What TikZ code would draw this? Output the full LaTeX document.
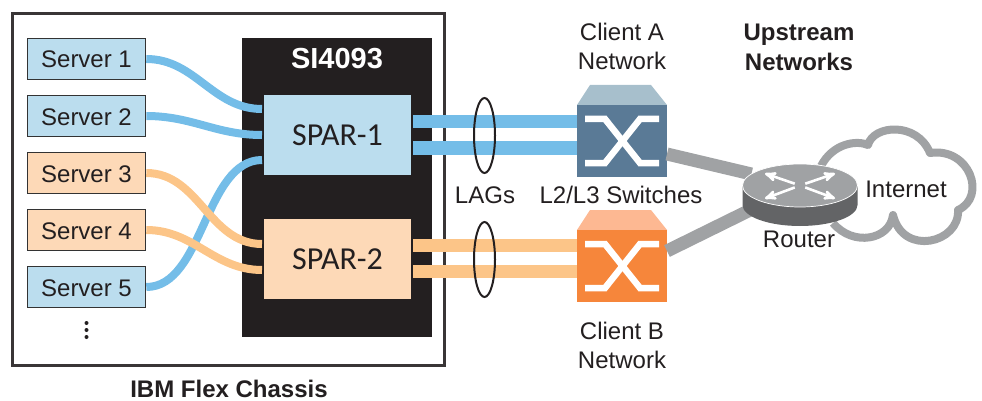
\documentclass[tikz,border=0pt]{standalone}
\usepackage{fontspec}
\setmainfont{Liberation Sans}
\newfontfamily\sparfont{Carlito}
\usetikzlibrary{arrows,shapes,positioning}

\definecolor{lightblue}{HTML}{BBDDEE}
\definecolor{lightorange}{HTML}{FDD9B7}
\definecolor{cableblue}{HTML}{74BDE8}
\definecolor{cableorange}{HTML}{FCC588}
\definecolor{chassisblack}{HTML}{231F20}
\definecolor{linkgray}{HTML}{A0A2A4}

\tikzset{
  lbl/.style={font=\fontsize{24}{29}\selectfont,text=chassisblack,align=center,inner sep=0pt},
  boldlbl/.style={font=\fontsize{24}{30}\selectfont\bfseries,text=chassisblack,align=center,inner sep=0pt},
  server/.style={draw=black!80,line width=1.6pt,minimum width=118pt,minimum height=41pt,inner sep=0pt,
                 font=\fontsize{24}{29}\selectfont,text=chassisblack,text height=18pt,text depth=0pt},
  spar/.style={minimum width=147pt,minimum height=80pt,inner sep=0pt,
               font=\sparfont\fontsize{32}{36}\selectfont,text=chassisblack},
  switch/.style={minimum width=90pt,minimum height=72pt,inner sep=0pt,outer sep=0pt},
  cable/.style={line width=8pt},
  lag/.style={line width=13pt},
  uplink/.style={draw=linkgray,line width=13pt},
  cross/.style={draw=white,line width=6.5pt,miter limit=2},
  lagring/.style={draw=chassisblack,line width=2pt,ellipse,minimum width=21pt,minimum height=75pt,inner sep=0pt},
  routerarrow/.style={draw=white,line width=2.6pt,-stealth'}
}

\begin{document}
\begin{tikzpicture}[x=1pt,y=-1pt,node distance=57pt]
  \useasboundingbox (0,0) rectangle (982,401);

  % chassis
  \node[draw=chassisblack!90,line width=2.5pt,minimum width=432pt,minimum height=352pt,inner sep=0pt] (chassis) at (228.5,189.5) {};
  \node[fill=chassisblack,minimum width=190pt,minimum height=299pt,inner sep=0pt] (si) at (337,187.5) {};
  \node[font=\fontsize{29}{30}\selectfont\bfseries,text=white,inner sep=0pt] (siname) at (337,59) {SI4093};

  \node[spar,fill=lightblue]   (spar1) at (337.5,135) {SPAR-1};
  \node[spar,fill=lightorange] (spar2) [below=44pt of spar1] {SPAR-2};

  \node[server,fill=lightblue]   (s1) at (86.5,59) {Server 1};
  \node[server,fill=lightblue]   (s2) [below of=s1] {Server 2};
  \node[server,fill=lightorange] (s3) [below of=s2] {Server 3};
  \node[server,fill=lightorange] (s4) [below of=s3] {Server 4};
  \node[server,fill=lightblue]   (s5) [below of=s4] {Server 5};
  \foreach \y in {323,330,337}
    \fill[chassisblack] (86.5,\y) circle (2pt);

  \node[boldlbl] (chassisname) at (229,389) {IBM Flex Chassis};

  % switches
  \node[switch] (swa) at (622,141) {};
  \node[switch] (swb) at (622,266) {};
  \fill[fill={rgb,255:red,167;green,191;blue,204}] (swa.north west) -- +(13,-20) -- +(74,-20) -- (swa.north east) -- cycle;
  \fill[fill={rgb,255:red,90;green,122;blue,150}] (swa.north west) rectangle (swa.south east);
  \fill[fill={rgb,255:red,253;green,184;blue,146}] (swb.north west) -- +(13,-20) -- +(74,-20) -- (swb.north east) -- cycle;
  \fill[fill={rgb,255:red,246;green,134;blue,59}] (swb.north west) rectangle (swb.south east);
  \foreach \sw in {swa,swb} {
    \draw[cross] ([shift={(-37,-22)}]\sw.center) -- ([shift={(-17,-22)}]\sw.center) -- ([shift={(18,22)}]\sw.center) -- ([shift={(37,22)}]\sw.center);
    \draw[cross] ([shift={(37,-22)}]\sw.center) -- ([shift={(18,-22)}]\sw.center) -- ([shift={(-17,22)}]\sw.center) -- ([shift={(-37,22)}]\sw.center);
  }

  % cloud
  \draw[draw=linkgray,fill=white,line width=8pt,line join=round]
    (821,166) .. controls (833,143) and (857,140) .. (868,145)
    .. controls (873,125) and (917,121) .. (930,153)
    .. controls (970,147) and (987,197) .. (958,210)
    .. controls (960,243) and (903,257) .. (893,215)
    .. controls (890,240) and (853,247) .. (833,223);

  % router
  \node[ellipse,minimum width=115pt,minimum height=43pt,inner sep=0pt,outer sep=0pt] (router) at (800,185.5) {};
  \path[uplink] (swa.east |- 0,154) edge (router)
                (swb.east |- 0,251) edge (router);
  \fill[fill={rgb,255:red,99;green,100;blue,102}] (742.5,185.5) -- (742.5,205) arc[start angle=180,end angle=360,x radius=57.5pt,y radius=21pt] -- (857.5,185.5) -- cycle;
  \node[ellipse,fill=linkgray,draw=white,line width=.7pt,minimum width=115pt,minimum height=43pt,inner sep=0pt] at (router) {};
  \foreach \dx/\dy in {-35/-12,35/-12,-35/13,35/13}
    \draw[routerarrow] ([shift={(\dx*0.15,\dy*0.15)}]router.center) -- ([shift={(\dx,\dy)}]router.center);

  % links inside the chassis
  \coordinate (p1) at (262,109);
  \coordinate (p2) at (262,135);
  \coordinate (p3) at (262,160);
  \coordinate (p4) at (262,244);
  \coordinate (p5) at (262,270);
  \path[draw=cableblue,cable]
        (s1) edge[out=0,in=180] (p1)
        (s2) edge[out=0,in=180] (p2)
        (s5) edge[out=0,in=180,looseness=.85] (p3);
  \path[draw=cableorange,cable]
        (s3) edge[out=0,in=180] (p4)
        (s4) edge[out=0,in=180] (p5);

  % LAGs
  \coordinate (q1) at (413,122);
  \coordinate (q2) at (413,148);
  \coordinate (q3) at (413,245);
  \coordinate (q4) at (413,271);
  \path[draw=cableblue,lag]
        (q1) edge (q1 -| swa.west)
        (q2) edge (q2 -| swa.west);
  \path[draw=cableorange,lag]
        (q3) edge (q3 -| swb.west)
        (q4) edge (q4 -| swb.west);
  \node[lagring] (laga) at (484.5,135.5) {};
  \node[lagring] (lagb) at (484.5,259.5) {};

  % labels
  \node[lbl] (clienta)  at (622,46)  {Client A\\Network};
  \node[lbl] (clientb)  at (622,345) {Client B\\Network};
  \node[boldlbl] (upstream) at (799,47) {Upstream\\Networks};
  \node[lbl] (lags)     at (485,195) {LAGs};
  \node[lbl] (layers)   at (621,195) {L2/L3 Switches};
  \node[lbl] (routerlbl) at (799,239) {Router};
  \node[lbl] (internet) at (906,189) {Internet};
\end{tikzpicture}
\end{document}
